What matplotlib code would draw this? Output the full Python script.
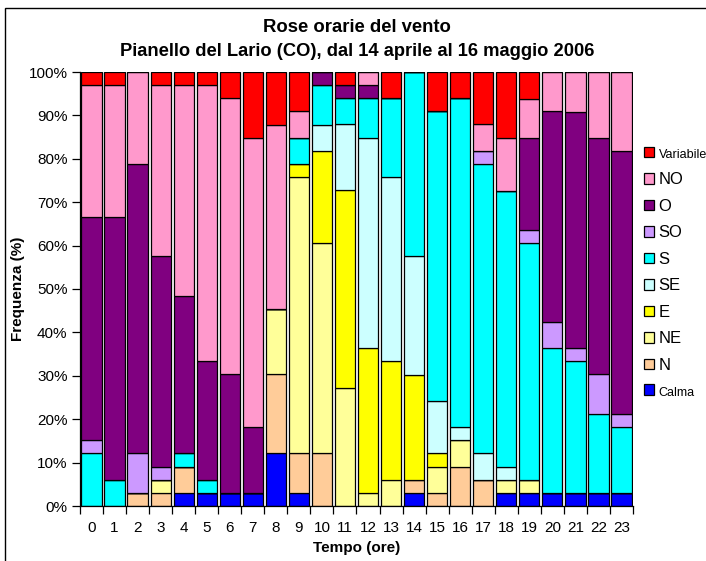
import matplotlib
matplotlib.use("Agg")
import matplotlib.pyplot as plt
from matplotlib.patches import Rectangle, Patch
import numpy as np

plt.rcParams['font.family'] = ['Liberation Sans', 'DejaVu Sans']

hours = [str(h) for h in range(24)]
categories = ["Calma", "N", "NE", "E", "SE", "S", "SO", "O", "NO", "Variabile"]
colors = ["#0000FF", "#FFCC99", "#FFFF99", "#FFFF00", "#CCFFFF",
          "#00FFFF", "#CC99FF", "#800080", "#FF99CC", "#FF0000"]

# Percent frequency per hour (0..23)
calma = [0, 0, 0, 0, 3.0, 3.0, 3.0, 3.0, 12.1, 3.0, 0, 0, 0, 0, 3.0, 0, 0, 0, 3.0, 3.0, 3.0, 3.0, 3.0, 3.0]
n_ = [0, 0, 3.0, 3.0, 6.1, 0, 0, 0, 18.2, 9.1, 12.1, 0, 0, 0, 3.0, 3.0, 9.1, 6.1, 0, 0, 0, 0, 0, 0]
ne = [0, 0, 0, 3.0, 0, 0, 0, 0, 15.2, 63.6, 48.5, 27.3, 3.0, 6.1, 0, 6.1, 6.1, 0, 3.0, 3.0, 0, 0, 0, 0]
e_ = [0, 0, 0, 0, 0, 0, 0, 0, 0, 3.0, 21.2, 45.5, 33.3, 27.3, 24.2, 3.0, 0, 0, 0, 0, 0, 0, 0, 0]
se = [0, 0, 0, 0, 0, 0, 0, 0, 0, 0, 6.1, 15.2, 48.5, 42.4, 27.3, 12.1, 3.0, 6.1, 3.0, 0, 0, 0, 0, 0]
s_ = [12.1, 6.1, 0, 0, 3.0, 3.0, 0, 0, 0, 6.1, 9.1, 6.1, 9.1, 18.2, 42.4, 66.7, 75.8, 66.7, 63.6, 54.5, 33.3, 30.3, 18.2, 15.2]
so = [3.0, 0, 9.1, 3.0, 0, 0, 0, 0, 0, 0, 0, 0, 0, 0, 0, 0, 0, 3.0, 0, 3.0, 6.1, 3.0, 9.1, 3.0]
o_ = [51.5, 60.6, 66.7, 48.5, 36.4, 27.3, 27.3, 15.2, 0, 0, 3.0, 3.0, 3.0, 0, 0, 0, 0, 0, 0, 21.2, 48.5, 54.5, 54.5, 60.6]
no = [30.3, 30.3, 21.2, 39.4, 48.5, 63.6, 63.6, 66.7, 42.4, 6.1, 0, 0, 3.0, 0, 0, 0, 0, 6.1, 12.1, 9.1, 9.1, 9.1, 15.2, 18.2]
variabile = [3.0, 3.0, 0, 3.0, 3.0, 3.0, 6.1, 15.2, 12.1, 9.1, 0, 3.0, 0, 6.1, 0, 9.1, 6.1, 12.1, 15.2, 6.1, 0, 0, 0, 0]

series = [calma, n_, ne, e_, se, s_, so, o_, no, variabile]
yticklabels = ["0%", "10%", "20%", "30%", "40%", "50%", "60%", "70%", "80%", "90%", "100%"]

W, H = 706, 561
fig = plt.figure(figsize=(W / 100, H / 100), dpi=100)
ax = fig.add_axes([80 / W, 1 - 506 / H, (633 - 80) / W, (506 - 72) / H])

x = np.arange(len(hours))
raw = np.array(series, dtype=float)
tot = raw.sum(axis=0)
data = raw / tot * 100.0
bottom = np.zeros(len(hours))
for vals, col in zip(data, colors):
    ax.bar(x, vals, bottom=bottom, width=0.88, color=col, edgecolor="black",
           linewidth=0.9, zorder=2)
    bottom += vals

ax.set_xlim(-0.5, len(hours) - 0.5)
ax.set_ylim(0, 100)
ax.set_yticks(np.arange(0, 101, 10))
ax.set_yticklabels(yticklabels, fontsize=11)
ax.set_xticks(x)
ax.set_xticklabels(hours, fontsize=11)
ax.set_xticks(np.arange(-0.5, len(hours), 1), minor=True)
ax.tick_params(axis="x", which="major", length=0, pad=11)
ax.tick_params(axis="x", which="minor", length=6, width=0.9, direction="out")
ax.tick_params(axis="y", length=6, width=0.9, direction="out", pad=3)
for s in ["top", "right"]:
    ax.spines[s].set_visible(False)
for s in ["left", "bottom"]:
    ax.spines[s].set_linewidth(0.9)

fig.text(357 / W, 1 - 27 / H, "Rose orarie del vento", ha="center", va="center",
         fontsize=13.3, fontweight="bold")
fig.text(357 / W, 1 - 52 / H, "Pianello del Lario (CO), dal 14 aprile al 16 maggio 2006",
         ha="center", va="center", fontsize=13.2, fontweight="bold")
fig.text(357 / W, 1 - 548 / H, "Tempo (ore)", ha="center", va="center",
         fontsize=11, fontweight="bold")
fig.text(18 / W, 1 - 289 / H, "Frequenza (%)", ha="center", va="center",
         fontsize=11, fontweight="bold", rotation=90)

handles = [Patch(facecolor=c, edgecolor="black", linewidth=0.9) for c in colors][::-1]
labels = categories[::-1]
leg = fig.legend(handles, labels, loc="upper left",
                 bbox_to_anchor=(637 / W, 1 - 140 / H), frameon=False,
                 fontsize=12, handlelength=0.6, handleheight=0.6,
                 handletextpad=0.3, labelspacing=0.69, borderaxespad=0)
for t in leg.get_texts():
    if t.get_text() in ("Variabile", "Calma"):
        t.set_fontsize(9)

fig.patches.append(Rectangle((5 / W, -0.1), 1.2, 1 - 8 / H + 0.1,
                             transform=fig.transFigure, fill=False,
                             edgecolor="black", linewidth=1.0))

fig.savefig("out.png", dpi=100)
